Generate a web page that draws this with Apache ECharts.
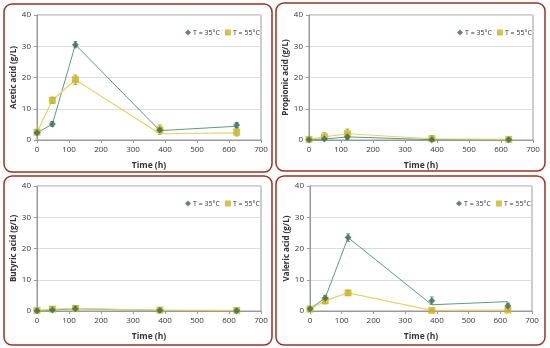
<!DOCTYPE html>
<html><head><meta charset="utf-8">
<script src="https://cdn.jsdelivr.net/npm/echarts@6/dist/echarts.min.js"></script>
<style>html,body{margin:0;padding:0;background:#fff;}#c{width:550px;height:348px;}</style>
</head><body><div id="c"></div>
<script>
const times = [0, 48, 120, 384, 624];
const xTicks = [0, 100, 200, 300, 400, 500, 600, 700];
const yTicks = [0, 10, 20, 30, 40];
const legendNames = ['T = 35°C', 'T = 55°C'];
const panelTitles = ['Acetic acid (g/L)', 'Propionic acid (g/L)', 'Butyric acid (g/L)', 'Valeric acid (g/L)'];

const acetic35 = [2.3, 5.1, 30.5, 3.2, 4.8];
const acetic35Err = [0.5, 0.8, 1.0, 0.6, 0.8];
const acetic35Line = [2.3, 5.1, 30.5, 3.0, 4.4];
const acetic55 = [2.5, 12.7, 19.3, 3.3, 2.5];
const acetic55Err = [0.8, 1.0, 1.5, 1.5, 1.2];
const acetic55Line = [2.5, 12.7, 19.3, 2.0, 2.3];

const propionic35 = [0.1, 0.3, 1.0, 0.1, 0.1];
const propionic35Err = [0.3, 0.5, 0.8, 0.5, 0.3];
const propionic35Line = [0.1, 0.3, 1.0, 0.1, 0.1];
const propionic55 = [0.2, 1.0, 2.0, 0.4, 0.2];
const propionic55Err = [0.5, 1.3, 1.5, 1.0, 0.5];
const propionic55Line = [0.2, 1.0, 2.0, 0.4, 0.2];

const butyric35 = [0.1, 0.3, 0.7, 0.2, 0.1];
const butyric35Err = [0.3, 0.4, 0.6, 0.4, 0.3];
const butyric35Line = [0.1, 0.3, 0.7, 0.2, 0.1];
const butyric55 = [0.2, 0.6, 0.8, 0.3, 0.2];
const butyric55Err = [0.6, 0.8, 0.9, 0.7, 0.6];
const butyric55Line = [0.2, 0.6, 0.8, 0.3, 0.2];

const valeric35 = [0.7, 4.2, 23.5, 3.3, 1.7];
const valeric35Err = [0.3, 0.8, 1.2, 1.2, 0.8];
const valeric35Line = [0.7, 4.2, 23.5, 2.0, 3.0];
const valeric55 = [0.6, 3.3, 5.8, 0.2, 0.3];
const valeric55Err = [0.6, 1.0, 0.8, 0.2, 0.2];
const valeric55Line = [0.6, 3.3, 5.8, 0.2, 0.3];

const panels = [
  {s35: acetic35, e35: acetic35Err, l35: acetic35Line, s55: acetic55, e55: acetic55Err, l55: acetic55Line},
  {s35: propionic35, e35: propionic35Err, l35: propionic35Line, s55: propionic55, e55: propionic55Err, l55: propionic55Line},
  {s35: butyric35, e35: butyric35Err, l35: butyric35Line, s55: butyric55, e55: butyric55Err, l55: butyric55Line},
  {s35: valeric35, e35: valeric35Err, l35: valeric35Line, s55: valeric55, e55: valeric55Err, l55: valeric55Line}
];

const FONT = 'Open Sans';
const C35L = '#5b9a8b', C35M = '#2f6e5c', C55L = '#e6d466', C55M = '#c9b41c';

const boxes = [
  {x: 4, y: 4, w: 268, h: 168},
  {x: 276, y: 3, w: 269, h: 168},
  {x: 4, y: 176, w: 268, h: 169},
  {x: 276, y: 176, w: 269, h: 169}
];
const grids = [
  {left: 37, top: 15, width: 224, height: 125},
  {left: 309, top: 15, width: 224, height: 125},
  {left: 37, top: 186, width: 224, height: 125},
  {left: 310, top: 186, width: 222, height: 125}
];

function errSeries(gi, vals, errs, color) {
  return {
    type: 'custom', xAxisIndex: gi, yAxisIndex: gi, z: 1, silent: true,
    data: times.map((t, i) => [t, vals[i], errs[i]]),
    renderItem: function (params, api) {
      const x = api.value(0), y = api.value(1), e = api.value(2);
      const hi = api.coord([x, y + e]), lo = api.coord([x, Math.max(0, y - e)]);
      const st = {stroke: color, lineWidth: 1};
      return {type: 'group', children: [
        {type: 'line', shape: {x1: hi[0], y1: hi[1], x2: lo[0], y2: lo[1]}, style: st},
        {type: 'line', shape: {x1: hi[0] - 2, y1: hi[1], x2: hi[0] + 2, y2: hi[1]}, style: st},
        {type: 'line', shape: {x1: lo[0] - 2, y1: lo[1], x2: lo[0] + 2, y2: lo[1]}, style: st}
      ]};
    }
  };
}

const option = {
  animation: false,
  backgroundColor: '#fff',
  textStyle: {fontFamily: FONT},
  graphic: boxes.map(b => ({type: 'rect', shape: {x: b.x, y: b.y, width: b.w, height: b.h, r: 8},
    style: {fill: 'none', stroke: '#9b3222', lineWidth: 1.5}, z: 100})),
  grid: grids.map(g => Object.assign({show: true, borderColor: '#9a9a9a', borderWidth: 1, backgroundColor: '#fff'}, g)),
  legend: grids.map((g, i) => ({
    data: legendNames, left: g.left + g.width - 76, top: g.top + 14,
    itemWidth: 6, itemHeight: 6, itemGap: 5, padding: 0,
    textStyle: {fontSize: 7, fontFamily: FONT, color: '#333', padding: [0, 0, 0, -3]}
  })),
  xAxis: grids.map((g, i) => ({
    type: 'value', gridIndex: i, min: 0, max: 700, interval: 100,
    name: 'Time (h)', nameLocation: 'middle', nameGap: 21,
    nameTextStyle: {fontSize: 8.5, fontWeight: 'bold', color: '#333', fontFamily: FONT},
    axisLine: {show: true, lineStyle: {color: '#9a9a9a'}},
    axisTick: {show: true, length: 3, lineStyle: {color: '#9a9a9a'}},
    axisLabel: {fontSize: 8, color: '#333', margin: 6, fontFamily: FONT},
    splitLine: {show: false}
  })),
  yAxis: grids.map((g, i) => ({
    type: 'value', gridIndex: i, min: 0, max: 40, interval: 10,
    name: panelTitles[i], nameLocation: 'middle', nameGap: 19, nameRotate: 90,
    nameTextStyle: {fontSize: 8, fontWeight: 'bold', color: '#333', fontFamily: FONT},
    axisLine: {show: true, lineStyle: {color: '#9a9a9a'}},
    axisTick: {show: true, length: 3, lineStyle: {color: '#9a9a9a'}},
    axisLabel: {fontSize: 8, color: '#333', margin: 6, fontFamily: FONT},
    splitLine: {show: true, lineStyle: {color: '#dcdcdc'}}
  })),
  series: []
};

panels.forEach((p, gi) => {
  option.series.push(
    {type: 'line', xAxisIndex: gi, yAxisIndex: gi, showSymbol: false, symbol: 'none', silent: true, z: 2,
     lineStyle: {color: C35L, width: 1}, data: times.map((t, i) => [t, p.l35[i]])},
    {type: 'line', xAxisIndex: gi, yAxisIndex: gi, showSymbol: false, symbol: 'none', silent: true, z: 2,
     lineStyle: {color: C55L, width: 1.2}, data: times.map((t, i) => [t, p.l55[i]])},
    errSeries(gi, p.s35, p.e35, '#8a8a8a'),
    errSeries(gi, p.s55, p.e55, '#b0a040'),
    {name: legendNames[0], type: 'scatter', xAxisIndex: gi, yAxisIndex: gi, symbol: 'diamond', symbolSize: 7, z: 4,
     itemStyle: {color: C35M}, data: times.map((t, i) => [t, p.s35[i]])},
    {name: legendNames[1], type: 'scatter', xAxisIndex: gi, yAxisIndex: gi, symbol: 'rect', symbolSize: 7, z: 3,
     itemStyle: {color: C55M}, data: times.map((t, i) => [t, p.s55[i]])}
  );
});

echarts.init(document.getElementById('c'), null, {renderer: 'canvas'}).setOption(option);
</script>
</body></html>
